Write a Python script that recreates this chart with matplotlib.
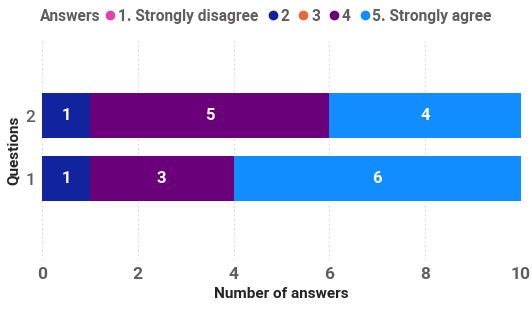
import matplotlib.pyplot as plt
from matplotlib.lines import Line2D
import numpy as np

plt.rcParams['font.family'] = ['Roboto', 'DejaVu Sans']

questions = ['1', '2']
answers = ['1. Strongly disagree', '2', '3', '4', '5. Strongly agree']
colors = ['#E044A7', '#12239E', '#E66C37', '#6B007B', '#118DFF']
# counts per answer, one list per question (Q1, Q2)
counts = {
    '1. Strongly disagree': [0, 0],
    '2': [1, 1],
    '3': [0, 0],
    '4': [3, 5],
    '5. Strongly agree': [6, 4],
}
xticks = [0, 2, 4, 6, 8, 10]

gray = '#605E5C'
fig = plt.figure(figsize=(5.32, 3.09), dpi=100)
ax = fig.add_axes([0.079, 0.159, 0.900, 0.712])

y = np.arange(len(questions))
left = np.zeros(len(questions))
for name, col in zip(answers, colors):
    vals = np.array(counts[name], dtype=float)
    bars = ax.barh(y, vals, left=left, height=0.7, color=col, edgecolor='none')
    for b, v in zip(bars, vals):
        if v > 0:
            ax.text(b.get_x() + b.get_width() / 2, b.get_y() + b.get_height() / 2,
                    '%d' % v, color='white', fontsize=12, fontweight='bold',
                    ha='center', va='center')
    left += vals

ax.set_xlim(0, 10)
ax.set_ylim(-1.29, 2.2)
ax.set_xticks(xticks, labels=[str(t) for t in xticks], fontweight='bold')
ax.set_yticks(y, labels=questions, fontweight='medium')
ax.tick_params(axis='x', length=0, labelsize=12.5, labelcolor=gray, pad=5)
ax.tick_params(axis='y', length=0, labelsize=12.5, labelcolor=gray, pad=5)
ax.xaxis.grid(True, linestyle=(0, (1, 3)), color='#C8C6C4', linewidth=0.8)
ax.set_axisbelow(True)
for s in ax.spines.values():
    s.set_visible(False)
ax.set_xlabel('Number of answers', fontsize=11, fontweight='bold', color='#252423', labelpad=4)
ax.set_ylabel('Questions', fontsize=11, fontweight='bold', color='#252423', labelpad=3)

# legend across the top
fig.text(0.075, 0.947, 'Answers', fontsize=11.2, fontweight='bold', color=gray, va='center')
handles = [Line2D([], [], marker='o', linestyle='none', color=c, markersize=6) for c in colors]
fig.legend(handles, answers, loc='center left', bbox_to_anchor=(0.193, 0.947), ncol=5,
           frameon=False, handletextpad=0.0, columnspacing=0.4, handlelength=1.0,
           borderaxespad=0, borderpad=0,
           prop={'size': 11.2, 'weight': 'bold'}, labelcolor=gray)

fig.savefig('out.png', dpi=100)
